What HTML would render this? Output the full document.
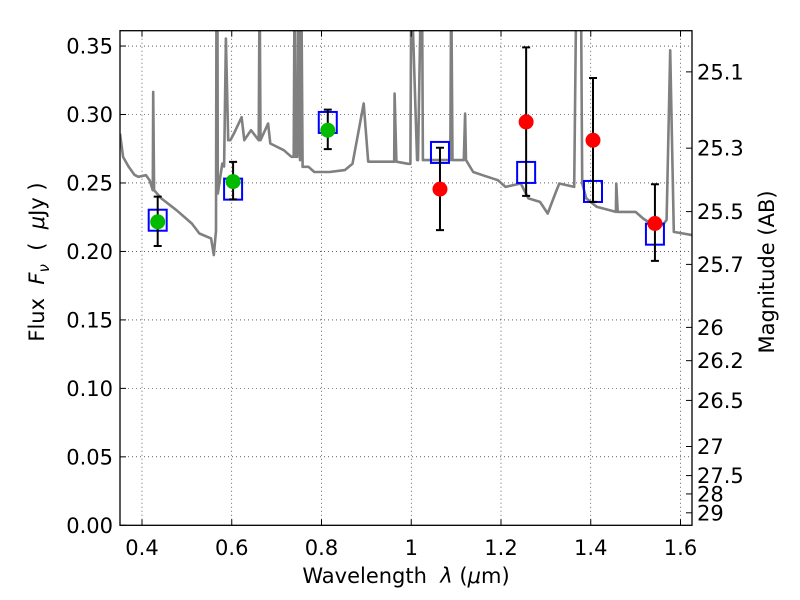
<!DOCTYPE html>
<html><head><meta charset="utf-8"><style>
html,body{margin:0;padding:0;background:#fff}
svg{display:block}
text{font-family:"DejaVu Sans","Liberation Sans",sans-serif;fill:#000}
</style></head><body>
<svg id="chart" width="800" height="600" viewBox="0 0 800 600" xmlns="http://www.w3.org/2000/svg">
<rect width="800" height="600" fill="#fff"/>
<defs><clipPath id="clip"><rect x="120" y="30.7" width="572" height="494.6"/></clipPath></defs>
<g id="grid"></g>
<g id="spec" clip-path="url(#clip)"></g>
<g id="marks"></g>
<rect x="120" y="30.7" width="572" height="494.6" fill="none" stroke="#000" stroke-width="1.3"/>
<g id="axes"></g>
<text x="406" y="583" font-size="21" text-anchor="middle">Wavelength&#160;&#160;<tspan font-style="italic">λ</tspan> (<tspan font-style="italic">μ</tspan>m)</text>
<text transform="translate(44,262) rotate(-90)" font-size="21" text-anchor="middle">Flux&#160;&#160;<tspan font-style="italic">F</tspan><tspan font-style="italic" font-size="15" dy="5">ν</tspan><tspan dy="-5">&#160;&#160;(&#160;&#160;</tspan><tspan font-style="italic">μ</tspan>Jy )</text>
<text transform="translate(774,272) rotate(-90)" font-size="21" text-anchor="middle">Magnitude (AB)</text>
</svg>
<script>
const xTicks=[0.4,0.6,0.8,1.0,1.2,1.4,1.6];
const xTickLabels=["0.4","0.6","0.8","1","1.2","1.4","1.6"];
const yTicks=[0,0.05,0.10,0.15,0.20,0.25,0.30,0.35];
const yTickLabels=["0.00","0.05","0.10","0.15","0.20","0.25","0.30","0.35"];
const magTicks=[25.1,25.3,25.5,25.7,26,26.2,26.5,27,27.5,28,29];
const magLabels=["25.1","25.3","25.5","25.7","26","26.2","26.5","27","27.5","28","29"];
const specWave=[0.351,0.358,0.370,0.383,0.392,0.409,0.417,0.424,0.425,0.427,0.443,0.477,0.511,0.528,0.554,0.560,0.565,0.566,0.568,0.569,0.579,0.583,0.587,0.592,0.597,0.605,0.622,0.628,0.643,0.660,0.662,0.664,0.681,0.686,0.716,0.733,0.738,0.740,0.742,0.746,0.748,0.752,0.755,0.758,0.771,0.784,0.818,0.852,0.869,0.894,0.904,0.937,0.962,0.963,0.967,0.993,0.998,1.000,1.013,1.015,1.022,1.024,1.026,1.057,1.080,1.087,1.089,1.092,1.117,1.120,1.122,1.138,1.159,1.193,1.210,1.244,1.261,1.287,1.304,1.321,1.330,1.363,1.368,1.370,1.378,1.381,1.390,1.413,1.456,1.457,1.460,1.500,1.517,1.534,1.560,1.569,1.577,1.585,1.626];
const specFlux=[0.286,0.269,0.262,0.256,0.2545,0.2557,0.252,0.2447,0.3165,0.2447,0.2387,0.2301,0.2204,0.2131,0.2095,0.1973,0.215,0.40,0.40,0.2423,0.2642,0.262,0.3555,0.2812,0.2812,0.2862,0.298,0.2812,0.2885,0.2812,0.40,0.2812,0.2934,0.2788,0.2739,0.2691,0.2691,0.40,0.2691,0.2691,0.40,0.2667,0.40,0.2618,0.2618,0.258,0.258,0.2594,0.264,0.308,0.2655,0.2655,0.2655,0.3153,0.2655,0.264,0.264,0.40,0.2667,0.2667,0.40,0.40,0.2667,0.2667,0.2667,0.2667,0.40,0.2667,0.2667,0.3007,0.2667,0.258,0.2557,0.252,0.2471,0.2496,0.2387,0.2362,0.2277,0.2423,0.2496,0.2471,0.40,0.40,0.40,0.2496,0.2387,0.2326,0.2289,0.2496,0.2289,0.2289,0.2240,0.2204,0.2192,0.2230,0.3469,0.2143,0.2119];
const ptWave=[0.435,0.603,0.814,1.064,1.256,1.405,1.543];
const ptFlux=[0.2216,0.251,0.2885,0.2455,0.2946,0.2812,0.2204];
const ptErrLo=[0.204,0.238,0.2747,0.2156,0.2406,0.2362,0.1931];
const ptErrHi=[0.240,0.2654,0.3036,0.2757,0.349,0.3267,0.2491];
const ptType=["green","green","green","red","red","red","red"];
const modelFlux=[0.2228,0.2455,0.2942,0.2723,0.2577,0.2438,0.2126];

const NS="http://www.w3.org/2000/svg";
const X0=120,X1=692,YT=30.7,YB=525.3;
const xmin=0.351,xmax=1.6256,ymin=0,ymax=0.3612;
function sx(v){return X0+(v-xmin)/(xmax-xmin)*(X1-X0);}
function sy(v){return YB-(v-ymin)/(ymax-ymin)*(YB-YT);}
function mk(tag,attrs,parent){const e=document.createElementNS(NS,tag);for(const k in attrs)e.setAttribute(k,attrs[k]);parent.appendChild(e);return e;}
const grid=document.getElementById('grid'),axes=document.getElementById('axes'),spec=document.getElementById('spec'),marks=document.getElementById('marks');

xTicks.forEach((t,i)=>{
  const x=sx(t);
  const g=mk('line',{x1:x,x2:x,y1:YT,y2:YB,stroke:'#000','stroke-width':0.6,'stroke-dasharray':'1,3'},grid);
  
  
  const tk=mk('line',{x1:x,x2:x,y1:YB,y2:YB-6,stroke:'#000','stroke-width':1},axes);
  
  
  const tk2=mk('line',{x1:x,x2:x,y1:YT,y2:YT+6,stroke:'#000','stroke-width':1},axes);
  
  
  const lb=mk('text',{x:x,y:555,'font-size':21,'text-anchor':'middle'},axes);
  lb.textContent=xTickLabels[i];
  
  
});
yTicks.forEach((t,i)=>{
  const y=sy(t);
  const g=mk('line',{x1:X0,x2:X1,y1:y,y2:y,stroke:'#000','stroke-width':0.6,'stroke-dasharray':'1,3'},grid);
  
  
  const tk=mk('line',{x1:X0,x2:X0+6,y1:y,y2:y,stroke:'#000','stroke-width':1},axes);
  
  
  const lb=mk('text',{x:113,y:y+7.5,'font-size':21,'text-anchor':'end'},axes);
  lb.textContent=yTickLabels[i];
  
  
});
magTicks.forEach((m,i)=>{
  const f=Math.pow(10,(23.9-m)/2.5);
  const y=sy(f);
  const tk=mk('line',{x1:X1,x2:X1-6,y1:y,y2:y,stroke:'#000','stroke-width':1},axes);
  
  
  const lb=mk('text',{x:697,y:y+7.5,'font-size':21,'text-anchor':'start'},axes);
  lb.textContent=magLabels[i];
  
  
});
let d='';
specWave.forEach((w,i)=>{d+=(i?'L':'M')+sx(w).toFixed(1)+','+sy(specFlux[i]).toFixed(1);});
const line=mk('path',{d:d,fill:'none',stroke:'#808080','stroke-width':2.6,'stroke-linejoin':'round'},spec);



ptWave.forEach((w,i)=>{
  const x=sx(w);
  const b=mk('rect',{x:x-9,y:sy(modelFlux[i])-10.5,width:18,height:21,fill:'none',stroke:'#0000ff','stroke-width':2},marks);
  
  
});
ptWave.forEach((w,i)=>{
  const x=sx(w),ylo=sy(ptErrLo[i]),yhi=sy(ptErrHi[i]);
  const e=mk('path',{d:`M${x},${ylo}L${x},${yhi}M${x-4},${ylo}L${x+4},${ylo}M${x-4},${yhi}L${x+4},${yhi}`,stroke:'#000','stroke-width':2,fill:'none'},marks);
  
  
  const c=mk('circle',{cx:x,cy:sy(ptFlux[i]),r:7.5,fill:ptType[i]==='green'?'#00bb00':'#ff0000'},marks);
  
  
});
</script>
</body></html>
